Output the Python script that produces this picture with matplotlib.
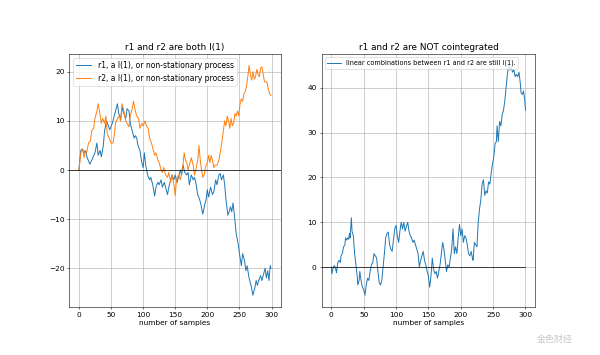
import matplotlib
matplotlib.use("Agg")
import matplotlib.pyplot as plt

# ---- data ----
r1_x = [0, 3, 5, 8, 10, 13, 17, 20, 25, 28, 30, 33, 35, 38, 40, 43, 46, 48, 52, 55,
        58, 60, 62, 65, 68, 70, 73, 75, 78, 80, 83, 86, 88, 90, 92, 95, 98, 100, 102, 104,
        107, 110, 112, 115, 118, 120, 123, 125, 128, 130, 133, 135, 138, 140, 143, 145, 148, 150, 153, 155,
        158, 160, 162, 165, 168, 170, 172, 175, 178, 180, 182, 185, 188, 190, 193, 196, 198, 200, 202, 205,
        208, 210, 213, 215, 218, 220, 222, 225, 227, 229, 232, 234, 236, 238, 240, 242, 245, 248, 250, 253,
        255, 258, 260, 262, 265, 268, 271, 274, 276, 278, 280, 283, 285, 288, 290, 292, 294, 296, 298, 299]
r1_y = [0, 4, 4.3, 3.5, 4, 2.5, 1.2, 2, 3.5, 5.5, 3, 4, 2.7, 5, 8, 10, 9, 8.2, 9.5, 11,
        12.5, 13.5, 11.5, 10.5, 12.8, 11.5, 10.5, 12.5, 12, 9.5, 8, 6.5, 7, 6.5, 5, 4, 1.5, 0.5, 3.5, 1,
        -1, -2, -1.5, -3, -5.3, -3.5, -2.5, -3, -2, -3.5, -2.5, -3.5, -5, -3.5, -2, -1, -2, -1, -2.5, -1.5,
        0, -1, 1, -0.5, -1, -0.5, -3, -1, -2, -1.5, -2.5, -5, -6, -7, -9, -7, -6, -4, -5.5, -3.5,
        -5, -4.5, -2, -3, -1, -0.7, -2, -1, -3, -6, -9.2, -8.5, -7.5, -8.5, -6.7, -9, -13, -15, -17, -19.5,
        -17, -18.5, -20.5, -19.5, -22, -23.5, -25.5, -24, -22.5, -23.5, -22.5, -21.5, -22.5, -21, -20, -22, -20.5, -22.5, -19.5, -20]

r2_x = [0, 3, 6, 8, 10, 12, 15, 18, 20, 23, 25, 28, 30, 32, 35, 37, 40, 42, 44, 47,
        50, 53, 55, 57, 60, 63, 65, 67, 70, 73, 75, 78, 80, 83, 85, 88, 90, 93, 95, 98,
        100, 103, 105, 108, 110, 113, 115, 118, 120, 123, 125, 128, 130, 132, 135, 138, 140, 143, 145, 148,
        150, 152, 155, 158, 160, 162, 164, 166, 168, 170, 172, 175, 178, 180, 182, 185, 187, 189, 191, 193,
        195, 197, 200, 202, 204, 206, 208, 210, 212, 215, 218, 220, 223, 225, 227, 229, 231, 233, 235, 237,
        239, 241, 243, 245, 247, 249, 251, 253, 255, 257, 259, 261, 263, 265, 267, 269, 271, 273, 275, 277,
        279, 281, 283, 285, 287, 289, 291, 293, 295, 297, 299]
r2_y = [0, 3.5, 4.3, 2.5, 4, 3.5, 5.5, 6, 8, 8.5, 10.5, 12, 13.5, 12, 9.5, 10.5, 9.5, 11, 7.5, 6.5,
        5.5, 5.5, 7, 9.5, 10.5, 11, 10, 13.5, 12, 10, 9.5, 8.8, 11, 12.5, 14, 12, 11, 10.5, 8.5, 9.5,
        9, 10, 9, 8.5, 6.5, 5.5, 4.5, 3, 3.5, 2, 1.5, 0, -0.5, 0.5, -1, -1.5, -0.5, -2.5, -1, -3,
        -5.2, -2, -1, -2, -0.5, 1, 3.5, 2, 1.5, 0, 1, 2.5, 1, -1, 0, 2, 5, 2, 0, -1.5,
        -1, 0.5, 1.5, 3, 1.5, 3, 2, 0.5, 1, 1, 2, 3.5, 6, 8, 10, 9, 11, 10, 8.5, 10.5,
        9, 9.5, 11.5, 11, 12, 11, 13.5, 14.5, 14, 15.5, 16, 17, 19, 21.3, 19.5, 18.3, 20, 18.5, 19, 20.5,
        19.5, 19, 20.8, 21, 19.5, 18, 18, 17.8, 16.5, 15.5, 15.2]

lc_x = [0, 1, 3, 5, 7, 8, 10, 12, 14, 15, 17, 19, 21, 22, 24, 25, 27, 28, 29, 31,
        32, 34, 36, 38, 40, 41, 43, 44, 46, 48, 50, 52, 54, 56, 58, 60, 62, 64, 66, 68,
        70, 72, 74, 76, 78, 80, 82, 84, 86, 88, 90, 92, 94, 96, 98, 100, 102, 104, 106, 108,
        110, 112, 114, 116, 118, 120, 122, 124, 126, 128, 130, 132, 134, 136, 138, 140, 142, 144, 146, 148,
        150, 152, 154, 156, 158, 160, 162, 164, 166, 168, 170, 172, 174, 176, 178, 180, 182, 184, 186, 188,
        190, 192, 194, 196, 198, 200, 202, 204, 206, 208, 210, 212, 214, 216, 218, 219, 221, 223, 225, 227,
        229, 231, 233, 235, 237, 239, 241, 243, 245, 247, 249, 251, 253, 255, 256, 258, 260, 262, 264, 266,
        268, 270, 272, 274, 276, 278, 280, 282, 284, 286, 288, 290, 292, 293, 295, 297, 299, 300]
lc_y = [0, -1.5, 0, 0.3, -0.5, -1.3, 1, 1.5, 1, 2.5, 3, 4.5, 5, 6.5, 6, 6.5, 6.2, 7.5, 6.5, 11,
        8, 7, 3, 0.5, -2, -4, -3, -1, -3, -4.5, -5, -6.3, -4, -2.5, -3, -1, 0.5, 1, 3, 2.5,
        2, -1, -3.5, -4, -3, 0, 3, 6.5, 7.5, 7.8, 5, 4, 3.5, 6, 8.5, 9.3, 7, 5.5, 8, 10,
        8.5, 10, 8, 9, 10, 8, 7, 6.5, 5.5, 6, 5, 4, 3, 0, 1.5, 2.5, 3.5, 1.5, 0.5, -1,
        -2, -4.5, -2, 2, -0.5, -1.5, -1, -2.5, -1, 0.5, 3, 5.5, 4, 1.5, -1, 0.5, 0, 2, 4, 8.5,
        3, 4.5, 3, 6.5, 9.5, 7, 8.5, 5.5, 7, 6.5, 5, 3, 2.5, 3.5, 2, 1.5, 5.5, 5, 4.5, 10,
        13, 15, 18.5, 19.5, 16, 17, 16.5, 19, 18.5, 21, 23, 24.5, 27.5, 28, 31.5, 28, 32.5, 31.5, 34, 35,
        37, 40, 43, 45, 44, 44.5, 43.5, 44, 42.5, 43, 42.5, 43.5, 41, 39, 38.5, 39.3, 37, 35]

titles = ["r1 and r2 are both I(1)", "r1 and r2 are NOT cointegrated"]
labels = ["r1, a I(1), or non-stationary process",
          "r2, a I(1), or non-stationary process",
          "linear combinations between r1 and r2 are still I(1)."]
xlabel = "number of samples"
xticks = [0, 50, 100, 150, 200, 250, 300]

plt.rcParams["font.size"] = 10.7
plt.rcParams["grid.color"] = "#a8a8a8"

fig = plt.figure(figsize=(12, 7.1), dpi=50)
ax1 = fig.add_axes([0.1155, 0.136, 0.352, 0.712])
ax2 = fig.add_axes([0.536, 0.136, 0.356, 0.712])

ax1.plot(r1_x, r1_y, color="#1f77b4", linewidth=1.4, label=labels[0])
ax1.plot(r2_x, r2_y, color="#ff7f0e", linewidth=1.4, label=labels[1])
ax1.axhline(0, color="black", linewidth=1)
ax1.set_title(titles[0])
ax1.set_xlabel(xlabel)
ax1.legend(loc="upper left", fontsize=11)
ax1.grid(True)
ax1.set_xticks(xticks)
ax1.set_yticks([-20, -10, 0, 10, 20])

ax2.plot(lc_x, lc_y, color="#1f77b4", linewidth=1.4, label=labels[2])
ax2.set_xlim(-15, 315)
ax2.axhline(0, xmin=0, xmax=315 / 330, color="black", linewidth=1)
ax2.set_title(titles[1])
ax2.set_xlabel(xlabel)
ax2.legend(loc="upper left", fontsize=9.4)
ax2.grid(True)
ax2.set_xticks(xticks)
ax2.set_yticks([0, 10, 20, 30, 40])

fig.text(0.925, 0.045, "金色财经", family=["Noto Sans CJK SC", "DejaVu Sans"],
         fontsize=13, color="#c8c8c8", ha="center", va="center")

fig.savefig("out.png", dpi=50)
